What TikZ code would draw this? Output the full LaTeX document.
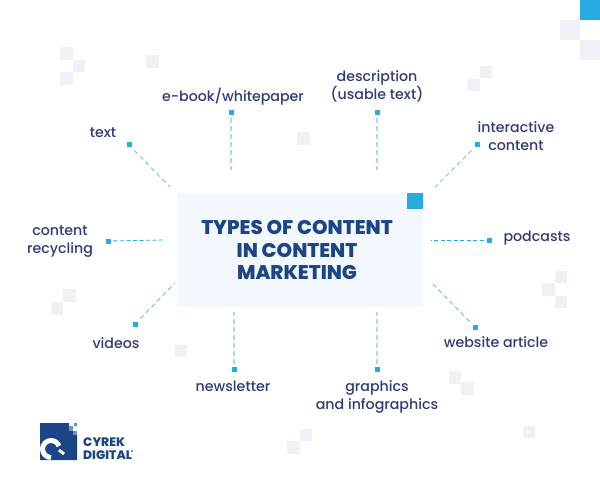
\documentclass[tikz,border=0pt]{standalone}
\usepackage{fontspec}
\setmainfont{Poppins}[UprightFont=* Medium, BoldFont=* ExtraBold]
\definecolor{navy}{HTML}{1C4587}
\definecolor{inkblue}{HTML}{2F3C78}
\definecolor{skyblue}{HTML}{29ABE2}
\definecolor{linkblue}{HTML}{6CC6EC}
\definecolor{uplinkblue}{HTML}{A5DCF3}
\definecolor{paleblue}{HTML}{F3F8FE}
\definecolor{palegrey}{HTML}{EEF1F6}
\tikzset{
    pixel/.style={fill=palegrey},
    label/.style={text=inkblue, font=\fontsize{14.2}{18}\selectfont, align=center, inner sep=0pt},
    marker/.style={fill=skyblue, minimum size=5pt, inner sep=0pt, outer sep=3pt},
    link/.style={draw=linkblue, dash pattern=on 4.5pt off 3.5pt, line width=1pt},
    uplink/.style={draw=uplinkblue, dash pattern=on 5pt off 3pt, line width=2pt},
    flatlink/.style={draw=skyblue, dash pattern=on 4pt off 2.5pt, line width=0.8pt},
}

\begin{document}
\begin{tikzpicture}[x=1pt, y=-1pt]
    \useasboundingbox (0,0) rectangle (600,500);

    \fill[skyblue] (580,0) rectangle (600,20);
    \fill[pixel] (560,20) rectangle (580,40);
    \fill[pixel] (580,40) rectangle (600,60);
    \fill[pixel] (480,66) rectangle (492,78);
    \fill[pixel] (467,79) rectangle (480,91);
    \fill[pixel] (60,47) rectangle (73,60);
    \fill[pixel] (73,60) rectangle (85,72);
    \fill[pixel] (60,72) rectangle (73,85);
    \fill[pixel] (146,55) rectangle (159,68);
    \fill[pixel] (297,132) rectangle (310,145);
    \fill[pixel] (555,271) rectangle (567,283);
    \fill[pixel] (542,283) rectangle (555,296);
    \fill[pixel] (555,296) rectangle (567,308);
    \fill[pixel] (449,371) rectangle (461,384);
    \fill[pixel] (461,382) rectangle (474,395);
    \fill[pixel] (523,426) rectangle (535,438);
    \fill[pixel] (63,289) rectangle (76,302);
    \fill[pixel] (51,302) rectangle (63,315);
    \fill[pixel] (175,345) rectangle (187,357);
    \fill[pixel] (300,429) rectangle (312,441);
    \fill[pixel] (287,441) rectangle (300,454);

    \node[fill=paleblue, minimum width=246pt, minimum height=114pt, inner sep=0pt] (hub) at (300,250) {};
    \fill[skyblue] (407,193) rectangle (423,209);
    \node[text=navy, font=\fontsize{19.8}{22.5}\selectfont\bfseries, align=center] (title) at (297,250)
        {TYPES OF CONTENT\\IN CONTENT\\MARKETING};

    \node[label] (text) at (103,133) {text};
    \node[label] (ebook) at (233,97) {e-book/whitepaper};
    \node[label] (description) at (377,86) {description\\(usable text)};
    \node[label] (interactive) at (516,136.5) {interactive\\content};
    \node[label] (podcasts) at (537,238) {podcasts};
    \node[label] (website) at (496,342) {website article};
    \node[label] (graphics) at (377,396.5) {graphics\\and infographics};
    \node[label] (newsletter) at (233,386.5) {newsletter};
    \node[label] (videos) at (116,343) {videos};
    \node[label] (recycling) at (60,241.5) {content\\recycling};

    \node[marker] (dottext) at (129,145) {};
    \node[marker] (dotebook) at (231,113) {};
    \node[marker] (dotdescription) at (377,113) {};
    \node[marker] (dotinteractive) at (477,145) {};
    \node[marker] (dotpodcasts) at (489,240) {};
    \node[marker] (dotwebsite) at (475,327) {};
    \node[marker] (dotgraphics) at (377,369) {};
    \node[marker] (dotnewsletter) at (234,369) {};
    \node[marker] (dotvideos) at (135,324) {};
    \node[marker] (dotrecycling) at (108,241) {};

    \coordinate (endtext) at (170,187);
    \coordinate (endebook) at (231,170);
    \coordinate (enddescription) at (377,170);
    \coordinate (endinteractive) at (435,187);
    \coordinate (endpodcasts) at (431,240);
    \coordinate (endwebsite) at (432,283);
    \coordinate (endgraphics) at (377,312);
    \coordinate (endnewsletter) at (234,312);
    \coordinate (endvideos) at (175,283);
    \coordinate (endrecycling) at (165,240);

    \draw[link] (dottext) -- (endtext);
    \draw[uplink] (dotebook) -- (endebook);
    \draw[uplink] (dotdescription) -- (enddescription);
    \draw[link] (dotinteractive) -- (endinteractive);
    \draw[flatlink] (dotpodcasts) -- (endpodcasts);
    \draw[link] (dotwebsite) -- (endwebsite);
    \draw[uplink] (dotgraphics) -- (endgraphics);
    \draw[uplink] (dotnewsletter) -- (endnewsletter);
    \draw[link] (dotvideos) -- (endvideos);
    \draw[flatlink] (dotrecycling) -- (endrecycling);

    \fill[navy] (40,423) rectangle (69,431) (40,431) rectangle (73,435) (40,435) rectangle (77,460);
    \fill[skyblue] (74,423) rectangle (77,426);
    \fill[navy!60] (69,426) rectangle (73,431);
    \fill[navy!60] (73,431) rectangle (77,435);
    \draw[white, line width=5pt] (51,457.5) arc[start angle=-90, end angle=-340, radius=8.5pt];
    \draw[white, line width=3pt] (59,450) -- (64,454);
    \node[text=navy, font=\fontsize{12.3}{13.5}\selectfont\bfseries, align=left, inner sep=0pt, anchor=west] (logo) at (83,448.5)
        {CYREK\\DIGITAL};
    \fill[skyblue] (131,450) rectangle (133,452);
\end{tikzpicture}
\end{document}
